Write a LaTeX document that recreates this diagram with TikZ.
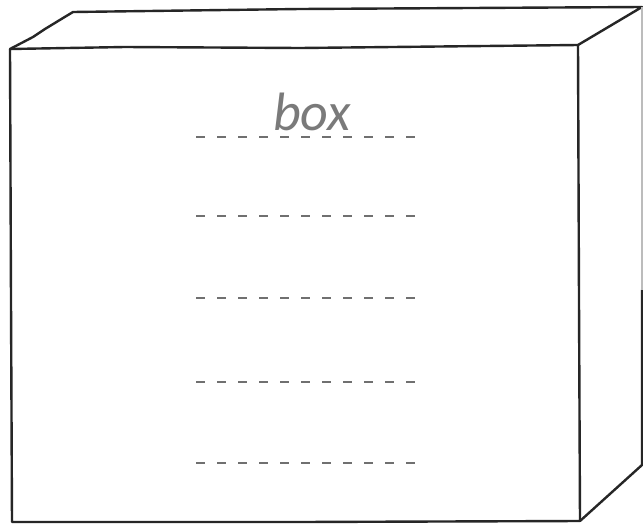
\documentclass[tikz,border=0pt]{standalone}
\usepackage{fontspec}
\usepackage{tikz}
\usetikzlibrary{calc}
\newfontfamily\labelfont{Carlito}
\definecolor{inkline}{HTML}{262626}
\definecolor{inkgray}{HTML}{7A7A7A}
\definecolor{rulegray}{HTML}{707070}

\begin{document}
\begin{tikzpicture}[
  x=1pt, y=-1pt,
  edge/.style={draw=inkline, line width=2.4pt, line join=round, line cap=round},
  faint/.style={draw=inkgray!50, line width=1.2pt},
  rule/.style={draw=rulegray, line width=1.3pt, dash pattern=on 9pt off 12pt},
  title/.style={font=\labelfont\itshape\fontsize{54}{54}\selectfont, text=inkgray, inner sep=0pt}
]
\useasboundingbox (0,0) rectangle (643,525);
\fill[white] (0,0) rectangle (643,525);

% corners of the box
\coordinate (fl) at (10,49);
\coordinate (fr) at (578,45);
\coordinate (br) at (580,521);
\coordinate (bl) at (12,522);
\coordinate (tl) at (73,12);
\coordinate (tr) at (642,7);
\coordinate (rb) at (642,465);

% front face
\draw[edge] (fl) -- (125,47) -- (300,48) -- (fr) -- (579,300) -- (br)
  -- (300,522) -- (bl) -- (11,300) -- cycle;
% top face
\draw[edge] (fl) -- (33,37) -- (45,29) -- (68,15) -- (tl) -- (300,9) -- (tr) -- (fr);
% side face
\draw[edge] (br) -- (rb) -- (642,290);
\draw[faint] (642,290) -- (tr);

\node[title, anchor=base] (name) at (312,130) {box};

% ruled lines
\foreach \row in {137,216,298,382,463}
  \draw[rule] (196,\row) -- (418,\row);
\end{tikzpicture}
\end{document}
